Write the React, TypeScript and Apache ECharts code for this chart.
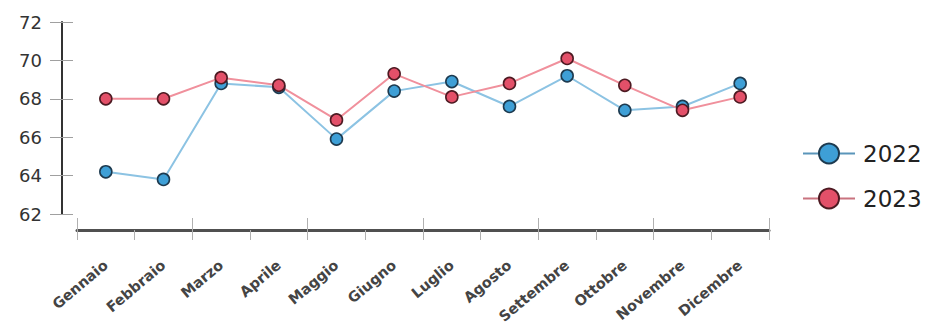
import React, { useEffect, useRef } from "react";
import * as echarts from "echarts";

// Monthly values for the two years
const months = [
  "Gennaio", "Febbraio", "Marzo", "Aprile", "Maggio", "Giugno",
  "Luglio", "Agosto", "Settembre", "Ottobre", "Novembre", "Dicembre",
];
const values2022 = [64.2, 63.8, 68.8, 68.6, 65.9, 68.4, 68.9, 67.6, 69.2, 67.4, 67.6, 68.8];
const values2023 = [68.0, 68.0, 69.1, 68.7, 66.9, 69.3, 68.1, 68.8, 70.1, 68.7, 67.4, 68.1];
const seriesNames = ["2022", "2023"];

const yMin = 62;
const yMax = 72;
const yStep = 2;

const BLUE = { fill: "#3e9fd6", border: "#1d3a4f", line: "#8cc3e3", legendLine: "#5a95ba" };
const RED = { fill: "#e35069", border: "#4d1a22", line: "#f0909c", legendLine: "#c9737f" };

export default function App() {
  const ref = useRef<HTMLDivElement>(null);

  useEffect(() => {
    if (!ref.current) return;
    const chart = echarts.init(ref.current, null, { renderer: "svg" });

    const xBase = {
      type: "category" as const,
      data: months,
      position: "bottom" as const,
      offset: 16,
      boundaryGap: true,
    };
    const yBase = {
      type: "value" as const,
      min: yMin,
      max: yMax,
      interval: yStep,
      position: "left" as const,
      offset: 15,
      splitLine: { show: false },
    };

    const makeSeries = (name: string, data: number[], c: typeof BLUE) => ({
      name,
      type: "line" as const,
      data,
      xAxisIndex: 0,
      yAxisIndex: 0,
      symbol: "circle",
      symbolSize: 12,
      showSymbol: true,
      silent: true,
      lineStyle: { color: c.line, width: 2 },
      itemStyle: { color: c.fill, borderColor: c.border, borderWidth: 1.6 },
    });

    chart.setOption({
      animation: false,
      backgroundColor: "#ffffff",
      grid: { left: 77, right: 164, top: 22, bottom: 121, containLabel: false },
      xAxis: [
        {
          ...xBase,
          axisLine: { show: true, lineStyle: { color: "#505050", width: 3 } },
          axisTick: { show: true, length: 10, alignWithLabel: false, lineStyle: { color: "#b0b0b0", width: 1 } },
          axisLabel: {
            show: true,
            interval: 0,
            rotate: 40,
            margin: 33,
            color: "#444444",
            fontFamily: "DejaVu Sans",
            fontWeight: "bold",
            fontSize: 14.5,
          },
        },
        {
          ...xBase,
          axisLine: { show: false },
          axisTick: { show: true, inside: true, length: 12, lineStyle: { color: "#b0b0b0", width: 1 } },
          axisLabel: { show: false },
        },
      ],
      yAxis: [
        {
          ...yBase,
          axisLine: { show: true, lineStyle: { color: "#333333", width: 2 } },
          axisTick: { show: true, length: 12, lineStyle: { color: "#a0a0a0", width: 1 } },
          axisLabel: {
            show: true,
            margin: 20,
            color: "#333333",
            fontFamily: "DejaVu Sans",
            fontSize: 18,
          },
        },
        {
          ...yBase,
          axisLine: { show: false },
          axisTick: { show: true, inside: true, length: 11, lineStyle: { color: "#a0a0a0", width: 1 } },
          axisLabel: { show: false },
        },
      ],
      legend: {
        orient: "vertical",
        left: 797,
        top: 137,
        itemWidth: 52,
        itemHeight: 25,
        itemGap: 22,
        selectedMode: false,
        textStyle: {
          color: "#222222",
          fontFamily: "DejaVu Sans",
          fontSize: 23,
          padding: [0, 0, 0, 3],
        },
        data: [
          {
            name: seriesNames[0],
            lineStyle: { color: BLUE.legendLine, width: 2 },
            itemStyle: { color: BLUE.fill, borderColor: BLUE.border, borderWidth: 2 },
          },
          {
            name: seriesNames[1],
            lineStyle: { color: RED.legendLine, width: 2 },
            itemStyle: { color: RED.fill, borderColor: RED.border, borderWidth: 2 },
          },
        ],
      },
      series: [
        makeSeries(seriesNames[0], values2022, BLUE),
        makeSeries(seriesNames[1], values2023, RED),
      ],
    });

    return () => chart.dispose();
  }, []);

  return (
    <div
      ref={ref}
      style={{ position: "fixed", left: 0, top: 0, width: 933, height: 335, background: "#fff" }}
    />
  );
}
